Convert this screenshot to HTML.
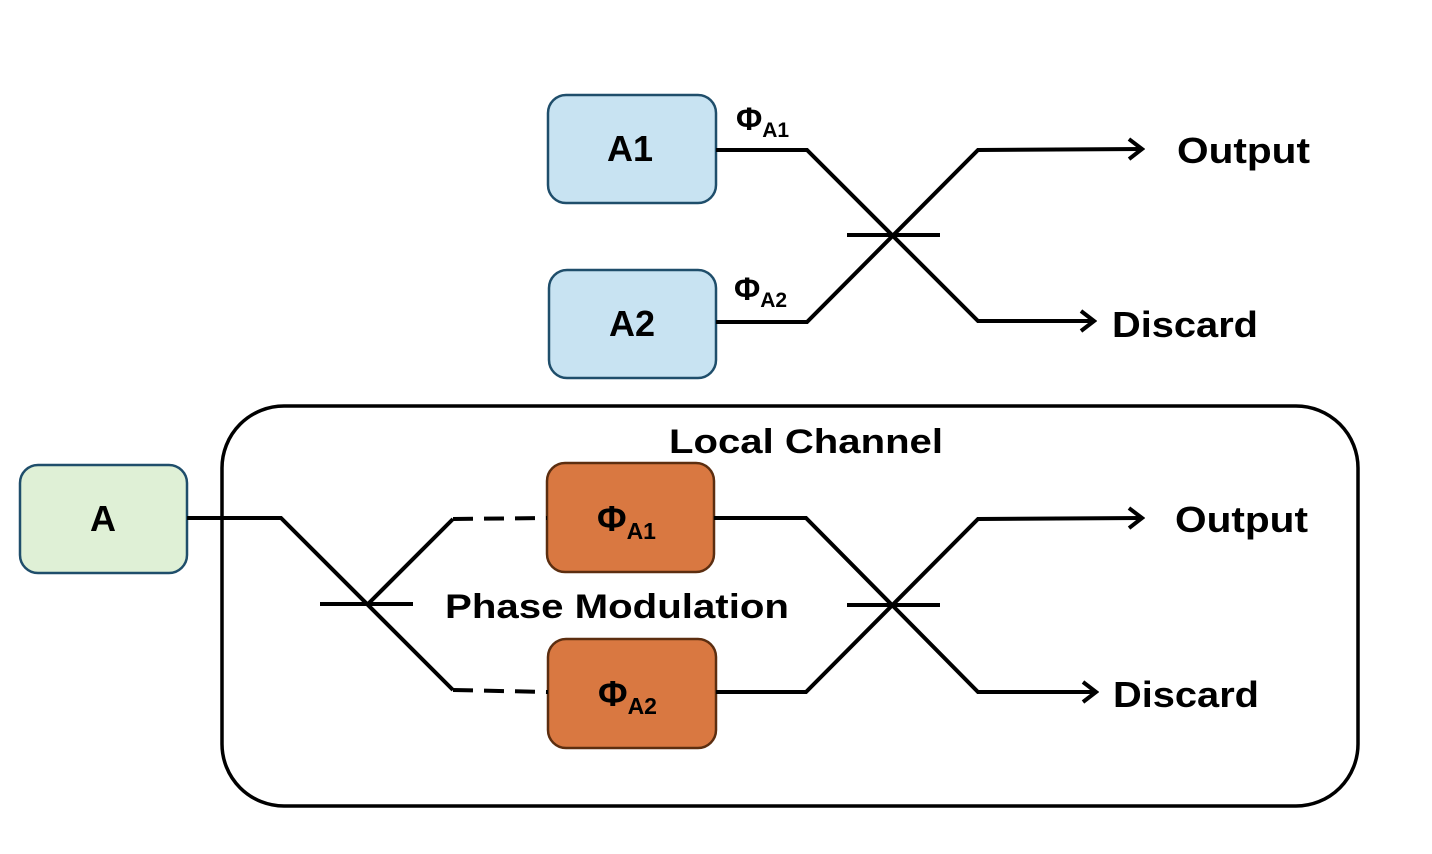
<!DOCTYPE html>
<html><head><style>
html,body{margin:0;padding:0;background:#fff;}
svg{display:block;}
text{font-family:"Liberation Sans",sans-serif;font-weight:bold;fill:#000;}
</style></head><body>
<svg width="1432" height="854" viewBox="0 0 1432 854" xmlns="http://www.w3.org/2000/svg">
<defs>
<marker id="ar" markerWidth="20" markerHeight="24" refX="17" refY="12" orient="auto" markerUnits="userSpaceOnUse">
<path d="M4,2 L17,12 L4,22" fill="none" stroke="#000" stroke-width="4"/>
</marker>
</defs>
<rect x="222" y="406" width="1136" height="400" rx="62" fill="none" stroke="#000" stroke-width="3.5"/>
<rect x="548" y="95" width="168" height="108" rx="18" fill="#c8e3f2" stroke="#1f4e6b" stroke-width="2.5"/>
<rect x="549" y="270" width="167" height="108" rx="18" fill="#c8e3f2" stroke="#1f4e6b" stroke-width="2.5"/>
<rect x="20" y="465" width="167" height="108" rx="18" fill="#dff0d6" stroke="#1f4e6b" stroke-width="2.5"/>
<rect x="547" y="463" width="167" height="109" rx="18" fill="#d97841" stroke="#5c2e10" stroke-width="2.5"/>
<rect x="548" y="639" width="168" height="109" rx="18" fill="#d97841" stroke="#5c2e10" stroke-width="2.5"/>
<g fill="none" stroke="#000" stroke-width="4">
<polyline points="716,150 807,150 978,321 1094,321" marker-end="url(#ar)"/>
<polyline points="716,322 807,322 978,150 1142,149" marker-end="url(#ar)"/>
<line x1="847" y1="235" x2="940" y2="235"/>
<polyline points="187,518 281,518 453,690"/>
<polyline points="368,604 453,519"/>
<line x1="453" y1="519" x2="547" y2="518" stroke-dasharray="20,11"/>
<line x1="453" y1="690" x2="548" y2="692" stroke-dasharray="20,11"/>
<line x1="320" y1="604" x2="413" y2="604"/>
<polyline points="714,518 806,518 978,692 1096,692" marker-end="url(#ar)"/>
<polyline points="716,692 806,692 978,519 1142,518" marker-end="url(#ar)"/>
<line x1="847" y1="605" x2="940" y2="605"/>
</g>
<text x="630" y="161" font-size="36" text-anchor="middle">A1</text>
<text x="632" y="336" font-size="36" text-anchor="middle">A2</text>
<text x="103" y="531" font-size="36" text-anchor="middle">A</text>
<text x="736" y="130" font-size="32">Φ<tspan font-size="21" dy="7">A1</tspan></text>
<text x="734" y="300" font-size="32">Φ<tspan font-size="21" dy="7">A2</tspan></text>
<text x="597" y="531" font-size="36">Φ<tspan font-size="23" dy="8">A1</tspan></text>
<text x="598" y="706" font-size="36">Φ<tspan font-size="23" dy="8">A2</tspan></text>
<text x="1177" y="163" font-size="36" textLength="133" lengthAdjust="spacingAndGlyphs">Output</text>
<text x="1112" y="337" font-size="36" textLength="146" lengthAdjust="spacingAndGlyphs">Discard</text>
<text x="1175" y="532" font-size="36" textLength="133" lengthAdjust="spacingAndGlyphs">Output</text>
<text x="1113" y="707" font-size="36" textLength="146" lengthAdjust="spacingAndGlyphs">Discard</text>
<text x="669" y="453" font-size="34" textLength="274" lengthAdjust="spacingAndGlyphs">Local Channel</text>
<text x="445" y="618" font-size="34" textLength="344" lengthAdjust="spacingAndGlyphs">Phase Modulation</text>
</svg>
</body></html>
